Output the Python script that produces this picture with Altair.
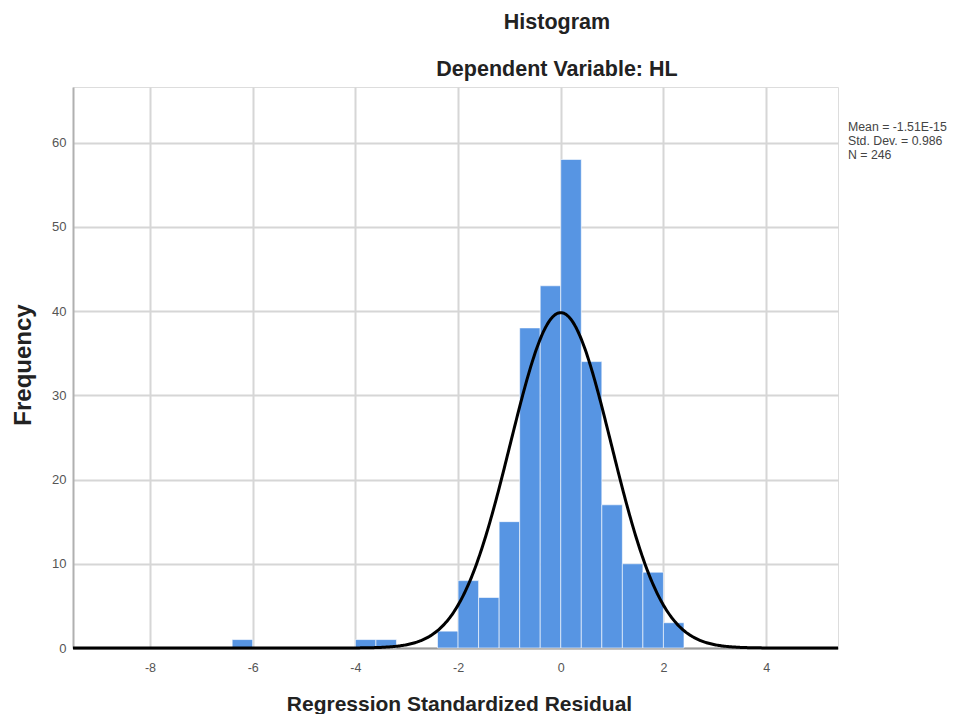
import altair as alt
import pandas as pd

# ---- data ----
bin_start = [-6.4, -4.0, -3.6, -2.4, -2.0, -1.6, -1.2, -0.8, -0.4, 0.0, 0.4, 0.8, 1.2, 1.6, 2.0]
counts = [1, 1, 1, 2, 8, 6, 15, 38, 43, 58, 34, 17, 10, 9, 3]
BIN_WIDTH = 0.4

MEAN = -1.51e-15
STD = 0.986
N = 246

x_ticks = [-8, -6, -4, -2, 0, 2, 4]
y_ticks = [0, 10, 20, 30, 40, 50, 60]
stats_lines = ["Mean = -1.51E-15", "Std. Dev. = 0.986", "N = 246"]
title_lines = ["Histogram", "Dependent Variable: HL"]

X_DOMAIN = [-9.5, 5.4]
Y_DOMAIN = [0, 66.6]

W, H = 765, 561
FONT = "Liberation Sans"

bars_df = pd.DataFrame({"start": bin_start, "count": counts})

x_scale = alt.Scale(domain=X_DOMAIN, nice=False, zero=False)
y_scale = alt.Scale(domain=Y_DOMAIN, nice=False)

x_axis = alt.Axis(
    values=x_ticks, title="Regression Standardized Residual", grid=True,
    gridColor="#d6d6d6", gridWidth=2, ticks=False, domain=True,
    domainColor="#9a9a9a", domainWidth=2, labelColor="#555555",
    labelFont=FONT, labelFontSize=12.5, labelPadding=13,
    labelExpr="toString(datum.value)",
    titleFont=FONT, titleFontSize=21, titleFontWeight="bold", titleColor="#222222",
    titleX=386, titleY=62, titleBaseline="alphabetic",
)
y_axis = alt.Axis(
    values=y_ticks, title="Frequency", grid=True,
    gridColor="#d6d6d6", gridWidth=2, ticks=False, domain=True,
    domainColor="#b0b0b0", domainWidth=2, labelColor="#555555",
    labelFont=FONT, labelFontSize=13, labelPadding=7,
    labelExpr="toString(datum.value)",
    titleFont=FONT, titleFontSize=24, titleFontWeight="bold", titleColor="#222222",
    titleX=-50, titleY=H / 2 - 3, titleBaseline="middle", titleAngle=270,
)

bars = alt.Chart(bars_df).transform_calculate(
    end=f"datum.start + {BIN_WIDTH}"
).mark_bar(color="#5795e3", stroke="#ffffff", strokeWidth=1, strokeOpacity=0.6).encode(
    x=alt.X("start:Q", scale=x_scale, axis=x_axis),
    x2="end:Q",
    y=alt.Y("count:Q", scale=y_scale, axis=y_axis),
    y2=alt.datum(0),
)

curve = alt.Chart(alt.sequence(X_DOMAIN[0], X_DOMAIN[1] + 0.001, 0.02, as_="x")).transform_calculate(
    y=f"{N} * {BIN_WIDTH} / ({STD} * sqrt(2 * PI)) * exp(-0.5 * pow((datum.x - ({MEAN})) / {STD}, 2))"
).mark_line(color="#000000", strokeWidth=3).encode(
    x=alt.X("x:Q", scale=x_scale),
    y=alt.Y("y:Q", scale=y_scale),
)

stats_df = pd.DataFrame({"t": ["\n".join(stats_lines)]})
stats = alt.Chart(stats_df).mark_text(
    align="left", baseline="alphabetic", font=FONT, fontSize=12.3, color="#444444",
    lineBreak="\n", lineHeight=14,
).encode(text="t:N", x=alt.value(W + 10), y=alt.value(44))

title_df = pd.DataFrame({"t": title_lines, "yy": [-58, -11]})
titles = alt.Chart(title_df).mark_text(
    align="center", baseline="alphabetic", font=FONT, fontSize=21.5, fontWeight="bold", color="#222222"
).encode(text="t:N", x=alt.value(484), y=alt.Y("yy:Q", scale=None))

chart = alt.layer(bars, curve, stats, titles).properties(
    width=W, height=H,
    autosize=alt.AutoSizeParams(type="none"),
    padding={"left": 65, "top": 79, "right": 120, "bottom": 66},
).configure_view(stroke=None).configure(background="white")

chart.save("out.html", embed_options={"renderer": "svg", "actions": False})
